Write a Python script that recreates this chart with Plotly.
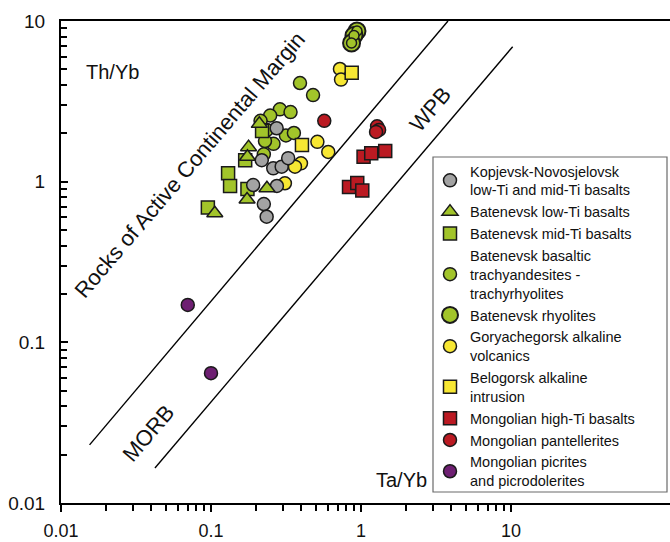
import plotly.graph_objects as go

# ---- data (Ta/Yb, Th/Yb) ----
kop_ta = [0.274, 0.218, 0.260, 0.296, 0.327, 0.191, 0.275, 0.225, 0.235]
kop_th = [2.15, 1.36, 1.21, 1.24, 1.40, 0.953, 0.94, 0.726, 0.605]
bat_low_ta = [0.210, 0.178, 0.175, 0.236, 0.174, 0.106]
bat_low_th = [2.29, 1.64, 1.43, 0.91, 0.775, 0.636]
bat_mid_ta = [0.130, 0.134, 0.169, 0.175, 0.0953, 0.219]
bat_mid_th = [1.13, 0.94, 1.36, 0.90, 0.69, 2.07]
bat_bta_ta = [0.392, 0.479, 0.288, 0.339, 0.248, 0.214, 0.316, 0.357, 0.261, 0.229, 0.225, 0.236]
bat_bta_th = [4.11, 3.46, 2.82, 2.71, 2.58, 2.39, 1.94, 2.01, 1.72, 1.79, 1.48, 2.10]
rhy_ta = [0.94, 0.898, 0.865]
rhy_th = [8.66, 8.12, 7.30]
gor_ta = [0.724, 0.736, 0.512, 0.605, 0.398, 0.363, 0.311]
gor_th = [5.03, 4.32, 1.77, 1.53, 1.30, 1.24, 0.977]
bel_ta = [0.867, 0.404]
bel_th = [4.77, 1.69]
mht_ta = [1.04, 1.17, 1.45, 0.832, 0.944, 1.02]
mht_th = [1.43, 1.50, 1.55, 0.927, 0.982, 0.881]
pan_ta = [0.569, 1.28, 1.32, 1.26]
pan_th = [2.39, 2.21, 2.10, 2.04]
pic_ta = [0.070, 0.100]
pic_th = [0.171, 0.0643]

# boundary lines of the MORB-OIB array
upper_ta = [0.0155, 3.80]
upper_th = [0.023, 10.0]
lower_ta = [0.0423, 10.26]
lower_th = [0.0165, 6.92]

x_tickvals = [0.01, 0.1, 1, 10]
x_ticktext = ["0.01", "0.1", "1", "10"]
y_tickvals = [0.01, 0.1, 1, 10]
y_ticktext = ["0.01", "0.1", "1", "10"]
minor_x = [m * d for d in (0.01, 0.1, 1) for m in range(2, 10)]
minor_y = [m * d for d in (0.01, 0.1, 1) for m in range(2, 10)]

FONT = "Liberation Sans, Arial, sans-serif"
EDGE = "#1a1a1a"
GRAY = "#a3a3a3"
GREEN = "#a2c42a"
YELLOW = "#f7e733"
RED = "#bb1a22"
PURPLE = "#6e1f72"

fig = go.Figure()

for xs, ys in ((upper_ta, upper_th), (lower_ta, lower_th)):
    fig.add_trace(go.Scatter(x=xs, y=ys, mode="lines", line=dict(color="black", width=1.4),
                             showlegend=False, hoverinfo="skip"))

def pts(xs, ys, name, symbol, color, size, rank, show=True, lw=1.5):
    fig.add_trace(go.Scatter(
        x=xs, y=ys, mode="markers", name=name, legendrank=rank, showlegend=show,
        marker=dict(symbol=symbol, color=color, size=size, line=dict(color=EDGE, width=lw)),
    ))

pts(bat_bta_ta, bat_bta_th, "Batenevsk basaltic<br>trachyandesites -<br>trachyrhyolites", "circle", GREEN, 13, 4)
pts(gor_ta, gor_th, "Goryachegorsk alkaline<br>volcanics", "circle", YELLOW, 13, 6)
pts(bel_ta, bel_th, "Belogorsk alkaline<br>intrusion", "square", YELLOW, 13, 7)
pts(bat_mid_ta, bat_mid_th, "Batenevsk mid-Ti basalts", "square", GREEN, 13, 3)
pts(kop_ta, kop_th, "Kopjevsk-Novosjelovsk<br>low-Ti and mid-Ti basalts", "circle", GRAY, 13, 1)
pts(bat_low_ta, bat_low_th, "Batenevsk low-Ti basalts", "triangle-up", GREEN, 14, 2)
pts(rhy_ta, rhy_th, "Batenevsk rhyolites", "circle", GREEN, 17, 5, lw=2)
pts(rhy_ta, rhy_th, "Batenevsk rhyolites inner", "circle", GREEN, 10, 50, show=False)
pts(mht_ta, mht_th, "Mongolian high-Ti basalts", "square", RED, 13, 8)
pts(pan_ta, pan_th, "Mongolian pantellerites", "circle", RED, 13, 9)
pts(pic_ta, pic_th, "Mongolian picrites<br>and picrodolerites", "circle", PURPLE, 13, 10)

# plot area: x 61..670 px, y 21..503 px
W, H = 670, 542
L, R, T, B = 61, 0, 21, 39
pw, ph = W - L - R, H - T - B

def px(xp):
    return (xp - L) / pw

def py(yp):
    return (H - B - yp) / ph

ang = -49.5
annots = [
    dict(text="Th/Yb", x=px(112), y=py(72), size=20, angle=0),
    dict(text="Ta/Yb", x=px(401), y=py(480), size=20, angle=0),
    dict(text="Rocks of Active Continental Margin", x=px(189), y=py(165), size=22, angle=ang),
    dict(text="MORB", x=px(148), y=py(433), size=22, angle=ang),
    dict(text="WPB", x=px(430), y=py(109), size=22, angle=ang),
]
for a in annots:
    fig.add_annotation(text=a["text"], x=a["x"], y=a["y"], xref="paper", yref="paper",
                       showarrow=False, textangle=a["angle"], xanchor="center", yanchor="middle",
                       font=dict(family=FONT, size=a["size"], color="#111"))

# legend frame
fig.add_shape(type="rect", xref="paper", yref="paper",
              x0=px(433), x1=px(667), y0=py(492), y1=py(157),
              line=dict(color="#6a6a6a", width=1.2), fillcolor="white", layer="above")

axis_common = dict(type="log", showgrid=False, zeroline=False, showline=True, automargin=False,
                   linecolor="black", linewidth=2, tickcolor="black", tickwidth=1.6)

fig.update_layout(
    width=W, height=H,
    margin=dict(l=L, r=R, t=T, b=B, pad=0, autoexpand=False),
    paper_bgcolor="white", plot_bgcolor="white",
    font=dict(family=FONT, color="#111"),
    xaxis=dict(axis_common, range=[-2, -2 + pw / 150.0], ticks="outside", ticklen=7,
               tickvals=x_tickvals, ticktext=x_ticktext, mirror=True, ticklabelstandoff=3,
               tickfont=dict(family=FONT, size=18, color="#111"),
               minor=dict(tickvals=minor_x, ticks="outside", ticklen=6, tickwidth=1.6, tickcolor="black")),
    yaxis=dict(axis_common, range=[-2, 1], ticks="inside", ticklen=7,
               tickvals=y_tickvals, ticktext=y_ticktext, ticklabelstandoff=10,
               tickfont=dict(family=FONT, size=19, color="#111"),
               minor=dict(tickvals=minor_y, ticks="inside", ticklen=6, tickwidth=1.6, tickcolor="black")),
    showlegend=True,
    legend=dict(x=px(430), y=py(155), xanchor="left", yanchor="top",
                bgcolor="rgba(0,0,0,0)", borderwidth=0, traceorder="normal",
                font=dict(family=FONT, size=14.5, color="#111"), itemsizing="trace",
                tracegroupgap=0),
)

fig.write_html("out.html")
